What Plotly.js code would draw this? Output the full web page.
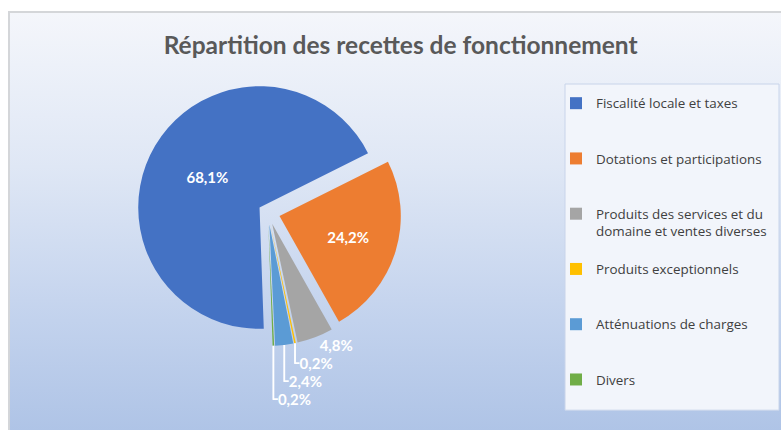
<!DOCTYPE html>
<html>
<head>
<meta charset="utf-8">
<script src="https://cdn.plot.ly/plotly-3.0.1.min.js"></script>
<style>
  html, body { margin: 0; padding: 0; background: #ffffff; }
  #wrap { position: relative; width: 781px; height: 430px; overflow: hidden; background: #ffffff; }
  #frame { position: absolute; left: 8px; top: 11px; width: 790px; height: 440px;
           border-left: 2px solid #d4d6d9; border-top: 2px solid #d4d6d9;
           background: linear-gradient(to bottom, #f4f6fb 0%, #dfe7f5 35%, #c2d2ed 70%, #abc1e5 100%); }
  #chart { position: absolute; left: 0; top: 0; width: 781px; height: 430px; }
</style>
</head>
<body>
<div id="wrap">
  <div id="frame"></div>
  <div id="chart"></div>
</div>
<script>
const categories = [
  "Fiscalité locale et taxes",
  "Dotations et participations",
  "Produits des services et du<br>domaine et ventes diverses",
  "Produits exceptionnels",
  "Atténuations de charges",
  "Divers"
];
const values = [68.1, 24.2, 4.8, 0.2, 2.4, 0.2];
const colors = ["#4472C4", "#ED7D31", "#A5A5A5", "#FFC000", "#5B9BD5", "#70AD47"];
const chartTitle = "Répartition des recettes de fonctionnement";

// pad legend entries to equal heights (3 lines each)
const legendLabels = categories.map(c => {
  const n = c.split("<br>").length;
  return c + "<br>&nbsp;".repeat(3 - n);
});

const fontFam = "Lato, 'Open Sans', sans-serif";

const trace = {
  type: "pie",
  labels: legendLabels,
  values: values,
  sort: false,
  direction: "clockwise",
  rotation: 178,
  pull: [0.08, 0.1, 0.1, 0.1, 0.1, 0.1],
  marker: { colors: colors, line: { color: "rgba(0,0,0,0)", width: 0 } },
  texttemplate: "%{value:.1f}%",
  textposition: ["inside", "inside", "outside", "outside", "outside", "outside"],
  insidetextorientation: "horizontal",
  textfont: { family: fontFam, size: 15, color: "#ffffff", weight: "bold" },
  outsidetextfont: { family: fontFam, size: 15, color: "#ffffff", weight: "bold" },
  hoverinfo: "none",
  domain: { x: [0.170, 0.516], y: [0.186, 0.814] }
};

const layout = {
  width: 781,
  height: 430,
  margin: { l: 0, r: 0, t: 0, b: 0 },
  paper_bgcolor: "rgba(0,0,0,0)",
  plot_bgcolor: "rgba(0,0,0,0)",
  separators: ", ",
  title: {
    text: chartTitle,
    x: 0.513, xanchor: "center",
    y: 0.895, yanchor: "middle",
    font: { family: fontFam, size: 24.5, color: "#595959", weight: "bold" }
  },
  shapes: [{
    type: "rect", xref: "paper", yref: "paper",
    x0: 565 / 781, x1: 779 / 781, y0: 1 - 415 / 430, y1: 1 - 85 / 430,
    fillcolor: "#f2f5fb", line: { color: "#c8d4ea", width: 1 }, layer: "below"
  }],
  showlegend: true,
  legend: {
    x: 556 / 781, xanchor: "left",
    y: 1 - 89 / 430, yanchor: "top",
    valign: "top",
    bgcolor: "rgba(0,0,0,0)",
    borderwidth: 0,
    font: { family: "'Open Sans', Lato, sans-serif", size: 13.4, color: "#404040" },
    itemwidth: 30,
    traceorder: "normal"
  }
};

Plotly.newPlot("chart", [trace], layout, { staticPlot: true, displayModeBar: false });
</script>
</body>
</html>
